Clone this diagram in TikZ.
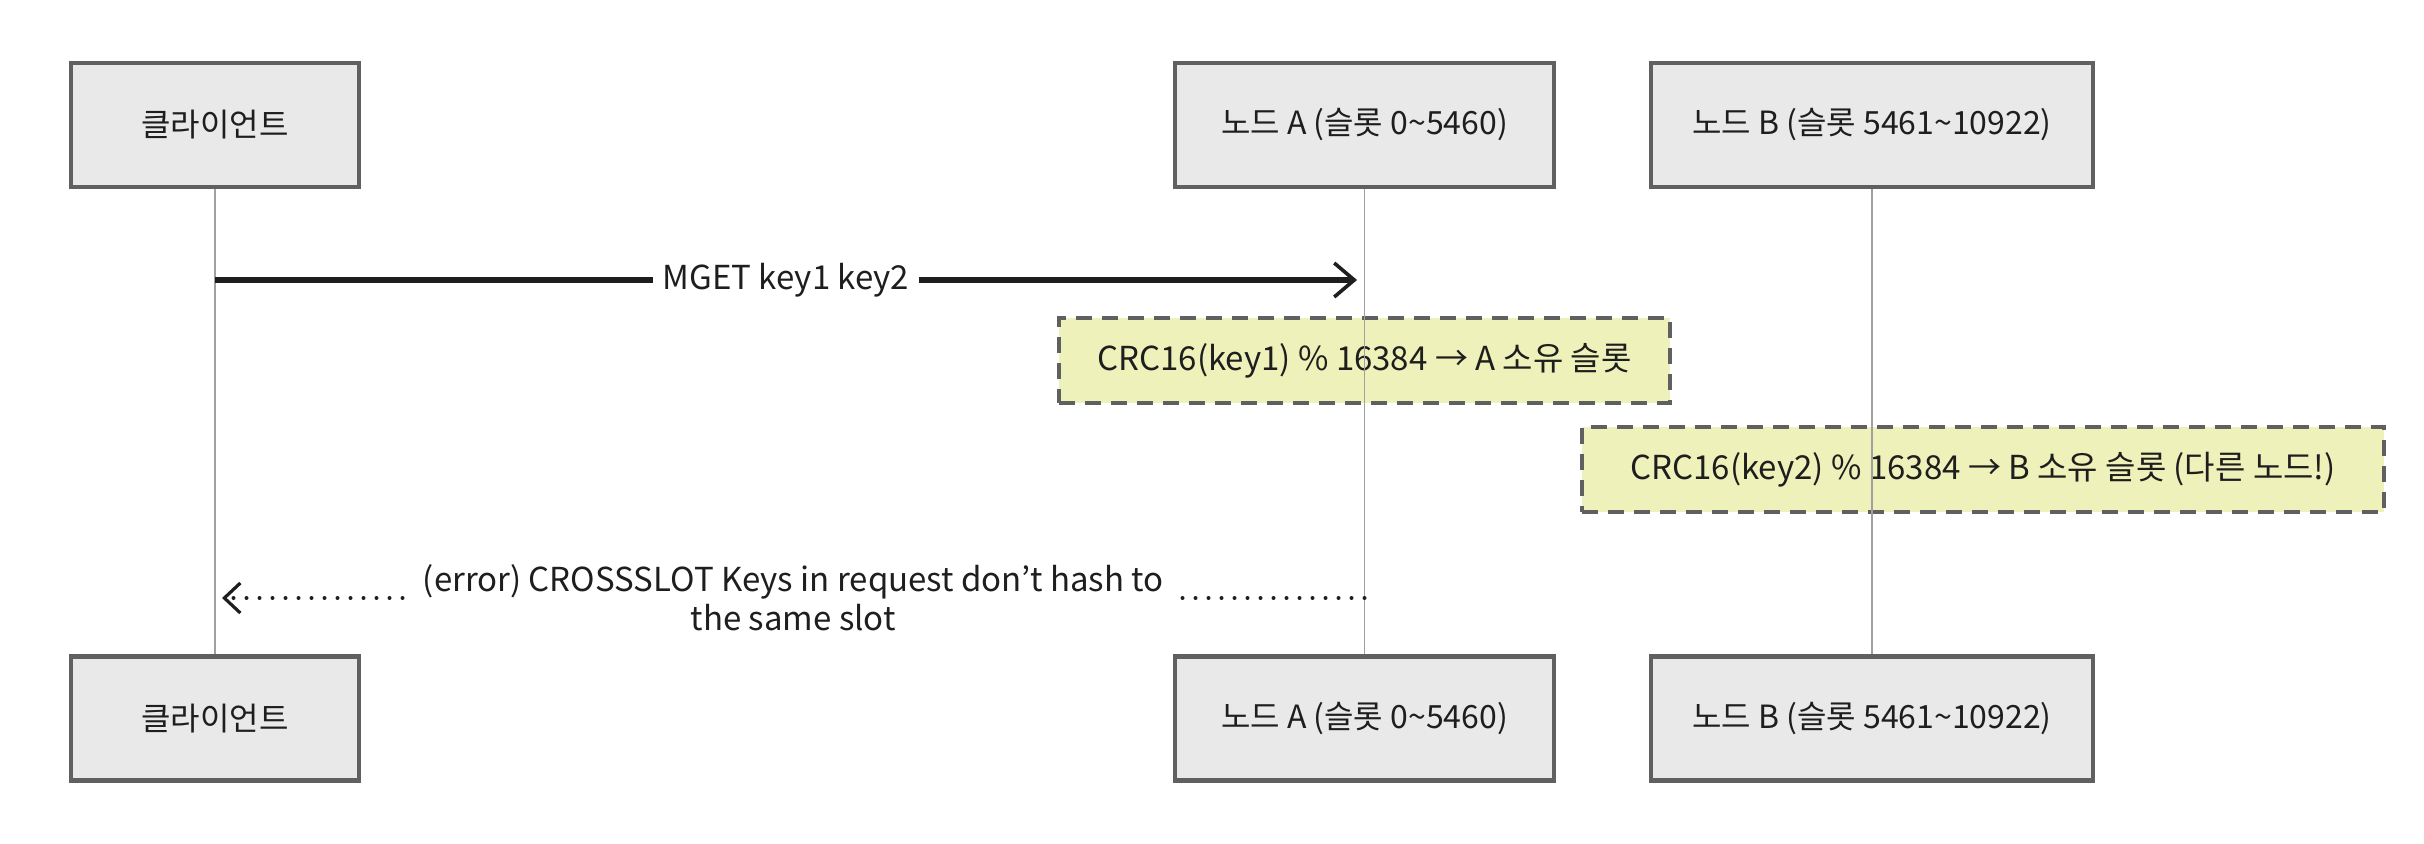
\documentclass[tikz,border=0pt]{standalone}
\usepackage{fontspec}
\setmainfont{Noto Sans CJK KR}
\usetikzlibrary{arrows.meta}

\definecolor{boxfill}{RGB}{233,233,233}
\definecolor{boxline}{RGB}{96,96,96}
\definecolor{notefill}{RGB}{238,242,186}
\definecolor{lifegray}{RGB}{160,160,160}
\definecolor{ink}{RGB}{30,30,30}

\tikzset{every picture/.style={line width=0.75pt}}
\tikzset{
  actor/.style={draw=boxline, fill=boxfill, line width=2.2pt, minimum height=62pt, inner sep=0pt, text=ink, font=\fontsize{16}{19}\selectfont},
  notebox/.style={draw=boxline, fill=notefill, line width=2.2pt, dash pattern=on 8pt off 5pt, minimum height=42.5pt, inner sep=0pt, text=ink, font=\fontsize{16.5}{19}\selectfont},
  lifeline/.style={draw=lifegray, line width=0.8pt},
  callarrow/.style={draw=ink, line width=2.6pt, -{Straight Barb[length=10pt,width=17pt,line width=1.8pt]}},
  replyarrow/.style={draw=ink, line width=2pt, line cap=round, dash pattern=on 0pt off 6.5pt, -{Straight Barb[length=8pt,width=15pt,line width=1.6pt]}},
  msglabel/.style={fill=white, inner xsep=5pt, inner ysep=3pt, text=ink, font=\fontsize{16.5}{19.5}\selectfont}
}

\begin{document}
\begin{tikzpicture}[x=0.5pt,y=0.5pt,yscale=-1,xscale=1]
\useasboundingbox (0,0) rectangle (2424,844);

%Shape: Rectangle, participants on top
\node[actor, minimum width=144pt] (cltop) at (215,125) {클라이언트};
\node[actor, minimum width=189.5pt] (natop) at (1364.5,125) {노드 A (슬롯 0\textasciitilde 5460)};
\node[actor, minimum width=221pt] (nbtop) at (1872,125) {노드 B (슬롯 5461\textasciitilde 10922)};
%Shape: Rectangle, participants at bottom
\node[actor, minimum width=144pt] (clbot) at (215,718.5) {클라이언트};
\node[actor, minimum width=189.5pt] (nabot) at (1364.5,718.5) {노드 A (슬롯 0\textasciitilde 5460)};
\node[actor, minimum width=221pt] (nbbot) at (1872,718.5) {노드 B (슬롯 5461\textasciitilde 10922)};

%Shape: Notes
\node[notebox, minimum width=305.5pt] (note1) at (1364.5,360.5) {CRC16(key1) \% 16384 → A 소유 슬롯};
\node[notebox, minimum width=401pt] (note2) at (1983,469.5) {CRC16(key2) \% 16384 → B 소유 슬롯 (다른 노드!)};

%Straight Lines, lifelines
\draw[lifeline] (cltop.south) -- (clbot.north);
\draw[lifeline] (natop.south) -- (nabot.north);
\draw[lifeline] (nbtop.south) -- (nbbot.north);

%Message ends
\coordinate (callfrom) at (215,280);
\coordinate (callto) at (1357,280);
\coordinate (replyfrom) at (1364.5,598);
\coordinate (replyto) at (222,598);

%Straight Lines, messages
\draw[callarrow] (callfrom) -- node[msglabel] {MGET key1 key2} (callto);
\draw[replyarrow] (replyfrom) -- node[msglabel, inner xsep=8pt, align=center] {(error) CROSSSLOT Keys in request don't hash to\\the same slot} (replyto);

\end{tikzpicture}
\end{document}
